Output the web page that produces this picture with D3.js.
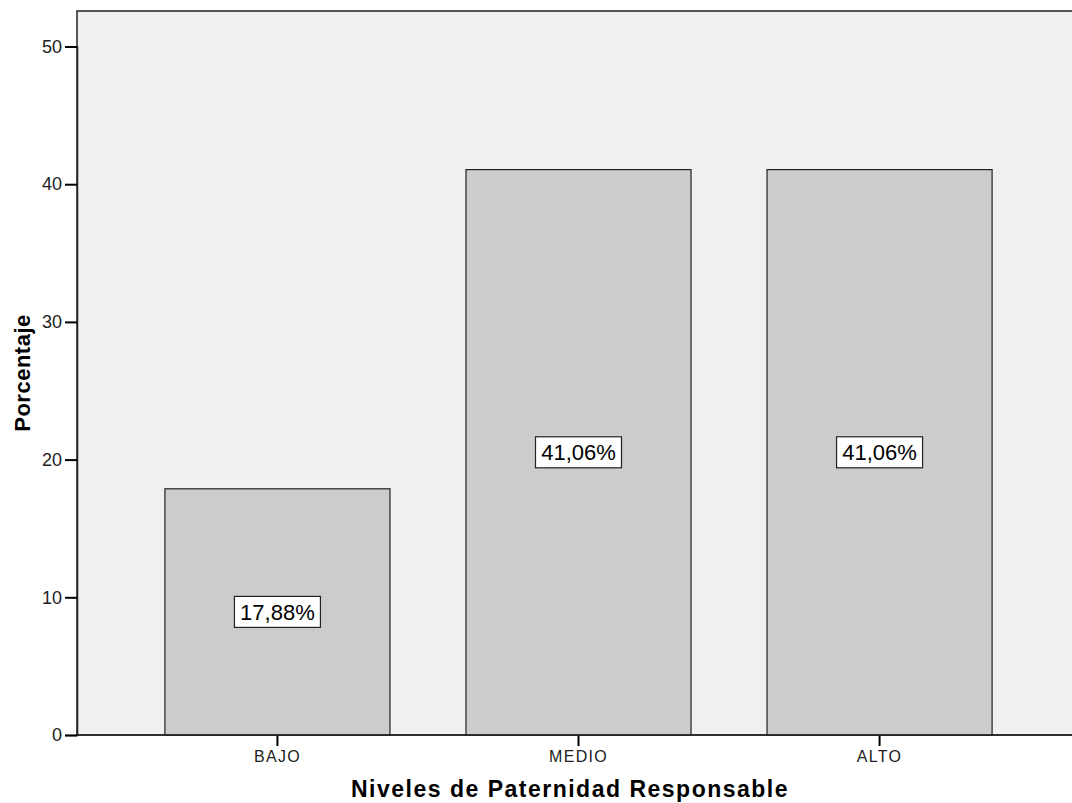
<!DOCTYPE html>
<html><head><meta charset="utf-8">
<script src="https://cdn.jsdelivr.net/npm/d3@7"></script>
<style>body{margin:0;background:#fff}svg{display:block;font-family:Arial,"Liberation Sans",sans-serif}</style>
</head><body>
<svg id="c" width="1072" height="803"></svg>
<script>
const categories = ["BAJO","MEDIO","ALTO"];
const values = [17.88, 41.06, 41.06];
const valueLabels = ["17,88%","41,06%","41,06%"];
const yTicks = [0,10,20,30,40,50];
const xTitle = "Niveles de Paternidad Responsable";
const yTitle = "Porcentaje";

const svg = d3.select("#c");
const L = 77, T = 11, R = 1080, B = 735;
const x = d3.scaleBand().domain(categories).range([L, R]).paddingInner(0.2525).paddingOuter(0.292);
const y = d3.scaleLinear().domain([0, 50]).range([B, B - 50*13.77]);
const FF = "Arial, Liberation Sans, sans-serif";

svg.append("rect").attr("x", L).attr("y", T).attr("width", R - L).attr("height", B - T)
  .attr("fill", "#f0f0f0").attr("stroke", "#222").attr("stroke-width", 1.5);

svg.selectAll(".bar").data(values).enter().append("rect")
  .attr("x", (d,i) => x(categories[i]))
  .attr("y", d => y(d))
  .attr("width", x.bandwidth())
  .attr("height", d => y(0) - y(d))
  .attr("fill", "#cccccc").attr("stroke", "#222").attr("stroke-width", 1.2);

// axes
const ya = svg.append("g").attr("transform", `translate(${L},0)`)
  .call(d3.axisLeft(y).tickValues(yTicks).tickSize(12).tickPadding(3));
ya.select(".domain").attr("stroke", "#222").attr("stroke-width", 1.5);
ya.selectAll(".tick line").attr("stroke", "#000").attr("stroke-width", 2);
ya.selectAll(".tick text").attr("font-size", 18).attr("fill", "#222").attr("font-family", FF);

const xa = svg.append("g").attr("transform", `translate(0,${B})`)
  .call(d3.axisBottom(x).tickSize(11).tickPadding(6));
xa.select(".domain").remove();
xa.selectAll(".tick line").attr("stroke", "#000").attr("stroke-width", 2);
xa.selectAll(".tick text").attr("font-size", 16).attr("fill", "#222").attr("font-family", FF)
  .attr("letter-spacing", 1.3).attr("dy", "0.6em");
svg.append("line").attr("x1", L).attr("x2", R).attr("y1", B).attr("y2", B).attr("stroke", "#222").attr("stroke-width", 1.5);

// value labels
const lg = svg.selectAll(".lbl").data(values).enter().append("g")
  .attr("transform", (d,i) => `translate(${x(categories[i]) + x.bandwidth()/2},${y(d/2)})`);
lg.append("rect").attr("x", -43).attr("y", -15.5).attr("width", 86).attr("height", 31)
  .attr("fill", "#fff").attr("stroke", "#222").attr("stroke-width", 1.2);
lg.append("text").attr("text-anchor", "middle").attr("dy", "0.36em")
  .attr("font-size", 22).attr("fill", "#000").text((d,i) => valueLabels[i]);

svg.append("text").attr("x", 570).attr("y", 797).attr("text-anchor", "middle")
  .attr("font-size", 23).attr("font-weight", "bold").attr("letter-spacing", 1.5).attr("fill", "#000").text(xTitle);
svg.append("text").attr("transform", `translate(30,${(T+B)/2}) rotate(-90)`).attr("text-anchor", "middle")
  .attr("font-size", 22).attr("font-weight", "bold").attr("letter-spacing", 0.5).attr("fill", "#000").text(yTitle);
</script>
</body></html>
